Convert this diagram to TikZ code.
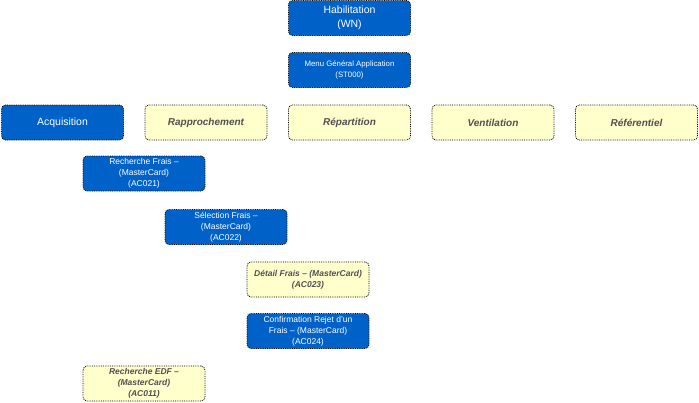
\documentclass[tikz,border=0pt]{standalone}
\usepackage{fontspec}
\setmainfont{Liberation Sans}
\definecolor{boxblue}{HTML}{0062C8}
\definecolor{boxyellow}{HTML}{FFFFCC}
\definecolor{txtgrey}{HTML}{505050}
\begin{document}
\begin{tikzpicture}[x=1pt,y=-1pt,
  base/.style={rounded corners=4pt, draw=black, densely dotted, line width=0.8pt,
    minimum width=122pt, minimum height=35pt, inner sep=1pt, align=center},
  bluebox/.style={base, fill=boxblue, text=white},
  yelbox/.style={base, fill=boxyellow, text=txtgrey, font=\bfseries\itshape},
  big/.style={font=\fontsize{10.5}{13.5}\selectfont},
  menu/.style={font=\fontsize{7.8}{11}\selectfont},
  small/.style={font=\fontsize{8.5}{11}\selectfont},
  ybig/.style={font=\fontsize{10}{12}\selectfont\bfseries\itshape},
  ysmall/.style={font=\fontsize{8.5}{11}\selectfont\bfseries\itshape}]
\useasboundingbox (0,0) rectangle (699,402);
\node[bluebox,big] (hab) at (349.5,18) {Habilitation\\(WN)};
\node[bluebox,menu] (menu) at (349.5,70) {Menu Général Application\\(ST000)};
\node[bluebox,big] (acq) at (62.5,122.5) {Acquisition};
\node[yelbox,ybig] (rap) at (206,122.5) {Rapprochement};
\node[yelbox,ybig] (rep) at (349.5,122.5) {Répartition};
\node[yelbox,ybig] (ven) at (493,122.5) {Ventilation};
\node[yelbox,ybig] (ref) at (636.5,122.5) {Référentiel};
\node[bluebox,small] (rf) at (144,173.5) {Recherche Frais –\\(MasterCard)\\(AC021)};
\node[bluebox,small] (sf) at (226,227) {Sélection Frais –\\(MasterCard)\\(AC022)};
\node[yelbox,ysmall] (df) at (308,279.5) {Détail Frais – (MasterCard)\\(AC023)};
\node[bluebox,small] (cr) at (308,331) {Confirmation Rejet d’un\\Frais – (MasterCard)\\(AC024)};
\node[yelbox,ysmall] (re) at (144,383.5) {Recherche EDF –\\(MasterCard)\\(AC011)};
\end{tikzpicture}
\end{document}
